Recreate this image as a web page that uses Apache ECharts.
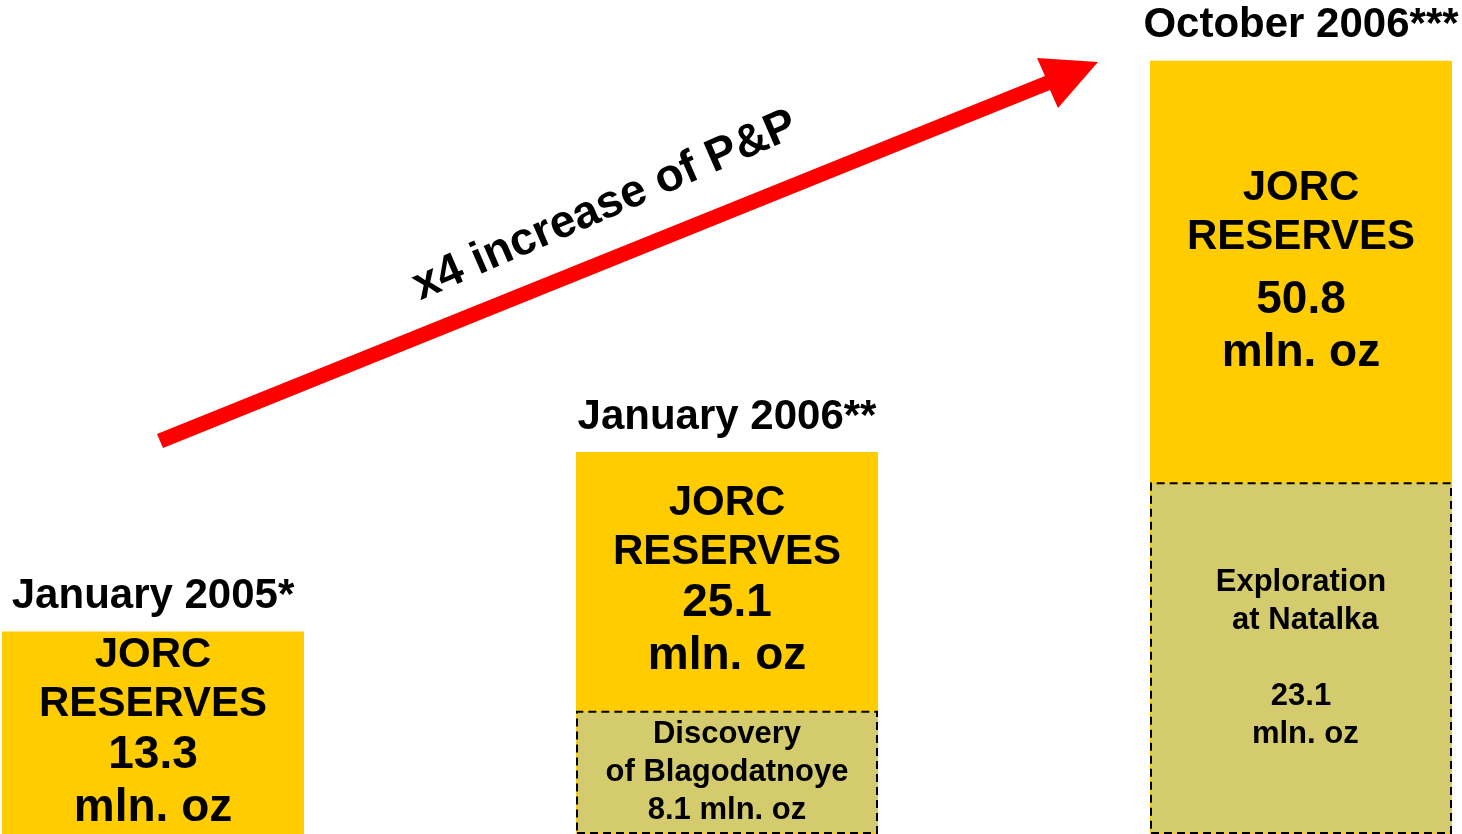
<!DOCTYPE html>
<html>
<head>
<meta charset="utf-8">
<title>JORC reserves</title>
<script src="https://cdn.jsdelivr.net/npm/echarts@6/dist/echarts.min.js"></script>
<style>
  html, body { margin: 0; padding: 0; background: #fff; }
  #chart { width: 1462px; height: 834px; }
</style>
</head>
<body>
<div id="chart"></div>
<script>
// dates of the estimates
const categories = ['January 2005*', 'January 2006**', 'October 2006***'];
// JORC reserves total, mln. oz
const totalReserves = [13.3, 25.1, 50.8];
// part added by new deposits / exploration, mln. oz
const additions = [null, 8.1, 23.1];
const additionNotes = ['', 'Discovery\nof Blagodatnoye', 'Exploration\n at Natalka'];

const FONT = "'Liberation Sans', Arial, sans-serif";

const chart = echarts.init(document.getElementById('chart'));

// yellow bar = whole total; its label sits in the middle of the part above the additions
const totalData = totalReserves.map((t, i) => {
  const share = (t - (additions[i] || 0)) / t;
  return {
    value: [i, t],
    label: { position: ['50%', (share * 50) + '%'] }
  };
});
// dashed bar = the addition, drawn over the bottom of the yellow bar
const additionData = additions.map((v, i) => [i, v]);

const option = {
  backgroundColor: '#fff',
  animation: false,
  textStyle: { fontFamily: FONT, fontWeight: 'bold', color: '#000' },
  grid: { left: 0, right: 0, top: 12, bottom: 0, containLabel: false },
  // bars placed by their index, spread a bit wider than the page
  xAxis: { type: 'value', min: -0.2666, max: 2.2805, show: false },
  yAxis: { type: 'value', min: 0, max: 54, show: false },
  series: [
    {
      name: 'JORC reserves',
      type: 'bar',
      barWidth: 302,
      data: totalData,
      itemStyle: { color: '#FFCC00' },
      label: {
        show: true,
        align: 'center',
        verticalAlign: 'middle',
        color: '#000',
        formatter: (p) => {
          const gap = p.dataIndex === 2 ? '\n' : '';
          return '{a|JORC}\n{a|RESERVES}\n' + gap + '{b|' + totalReserves[p.dataIndex] + '}\n{b|mln. oz}';
        },
        rich: {
          a: { fontFamily: FONT, fontWeight: 'bold', fontSize: 42, lineHeight: 49, color: '#000' },
          b: { fontFamily: FONT, fontWeight: 'bold', fontSize: 46, lineHeight: 53, color: '#000' }
        }
      },
      z: 2
    },
    {
      name: 'Additions',
      type: 'bar',
      barWidth: 302,
      barGap: '-100%',
      data: additionData,
      itemStyle: {
        color: '#D3CB6E',
        borderColor: '#000',
        borderWidth: 2,
        borderType: [8, 5]
      },
      label: {
        show: true,
        position: 'inside',
        fontFamily: FONT,
        fontWeight: 'bold',
        fontSize: 31,
        lineHeight: 38,
        color: '#000',
        formatter: (p) => {
          const i = p.dataIndex;
          const note = additionNotes[i];
          if (i === 2) {
            return note + '\n\n' + additions[i] + '\n mln. oz';
          }
          return note + '\n' + additions[i] + ' mln. oz';
        }
      },
      z: 3
    },
    {
      // invisible copy of the total, only to put the date above each bar
      name: 'Date',
      type: 'bar',
      barWidth: 302,
      barGap: '-100%',
      data: totalReserves.map((t, i) => [i, t]),
      silent: true,
      itemStyle: { color: 'rgba(0,0,0,0)' },
      label: {
        show: true,
        position: 'top',
        distance: 14,
        fontFamily: FONT,
        fontWeight: 'bold',
        fontSize: 42,
        color: '#000',
        formatter: (p) => categories[p.dataIndex]
      },
      z: 1
    }
  ],
  graphic: [
    {
      type: 'polygon',
      shape: {
        points: [
          [157, 434], [1045, 76], [1037, 58], [1098, 62],
          [1058, 108], [1050, 90], [163, 448]
        ]
      },
      style: { fill: '#FF0000' },
      z: 10
    },
    {
      type: 'text',
      x: 605,
      y: 206,
      rotation: 23.5 * Math.PI / 180,
      style: {
        text: 'x4 increase of P&P',
        font: "bold 46px 'Liberation Sans', Arial, sans-serif",
        fill: '#000',
        textAlign: 'center',
        textVerticalAlign: 'middle',
        align: 'center',
        verticalAlign: 'middle'
      },
      z: 10
    }
  ]
};

chart.setOption(option);
</script>
</body>
</html>
